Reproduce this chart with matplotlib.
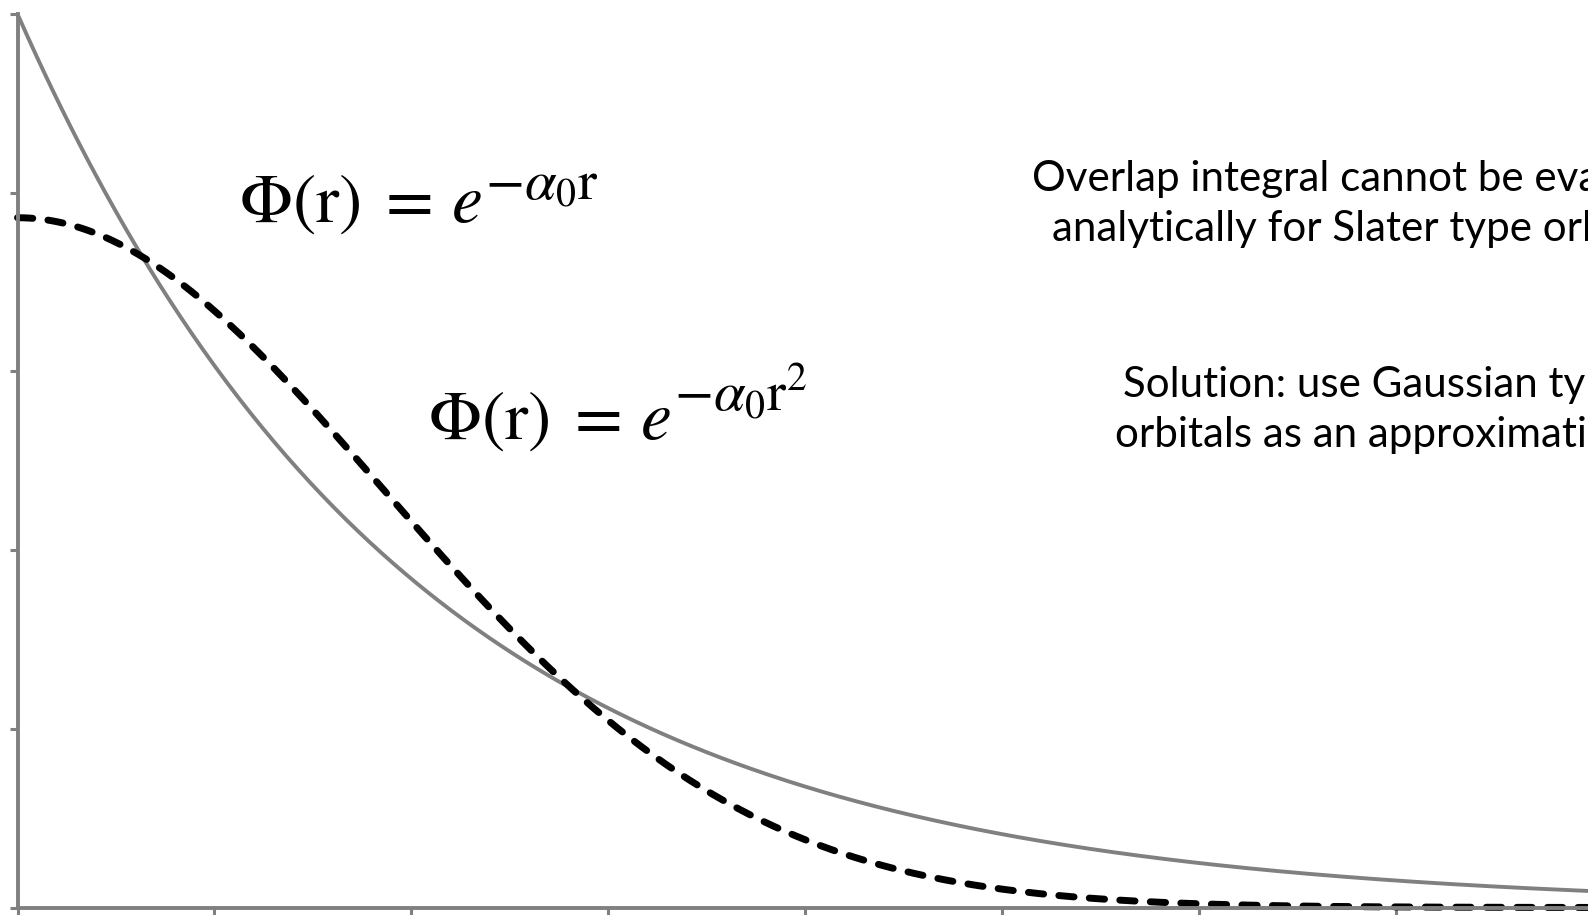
import numpy as np
import matplotlib.pyplot as plt

plt.rcParams['mathtext.fontset'] = 'stix'

# radial coordinate and orbital exponents
r_max = 4.5
alpha_slater = 1.0
gauss_amp = 0.772
alpha_gauss = 0.58

x_ticks = np.arange(0, 4.6, 0.5)
y_ticks = np.arange(0, 1.01, 0.2)

lhs = r'$\Phi(\mathrm{r})\;=\,e$'
slater_exp = r'$-\alpha_0\mathrm{r}$'
gauss_exp = r'$-\alpha_0\mathrm{r}^2$'
overlap_lines = ['Overlap integral cannot be evaluated',
                 'analytically for Slater type orbitals']
solution_lines = ['Solution: use Gaussian type',
                  'orbitals as an approximation']

W, H = 1588, 915
fig = plt.figure(figsize=(W / 100, H / 100), dpi=100)
fig.patch.set_facecolor('white')

# axes run past the right edge of the figure
x0, y_bot, y_top = 17.5, 907.5, 14.0
px_per_unit = 196.9 / 0.5
ax = fig.add_axes([x0 / W, (H - y_bot) / H,
                   r_max * px_per_unit / W, (y_bot - y_top) / H])

r = np.linspace(0, r_max, 600)
slater = np.exp(-alpha_slater * r)
gauss = gauss_amp * np.exp(-alpha_gauss * r ** 2)

ax.plot(r, slater, color='#808080', lw=2.8, solid_capstyle='butt', clip_on=False)
ax.plot(r, gauss, color='black', lw=5.0, dashes=(2.2, 2.2),
        dash_capstyle='round', clip_on=False)

ax.set_xlim(0, r_max)
ax.set_ylim(0, 1)
ax.set_xticks(x_ticks)
ax.set_yticks(y_ticks)
ax.set_xticklabels([])
ax.set_yticklabels([])
ax.tick_params(direction='out', length=6, width=2.2, color='#808080')
for side in ['top', 'right']:
    ax.spines[side].set_visible(False)
for side in ['left', 'bottom']:
    ax.spines[side].set_color('#808080')
    ax.spines[side].set_linewidth(2.8)

renderer = fig.canvas.get_renderer()


def put(x, y, s, **kw):
    return fig.text(x / W, 1 - y / H, s, va='baseline', ha='left', **kw)


def equation(x, y, exponent, raise_px):
    # Phi(r) = e, with a near full size exponent after the e
    base = put(x, y, lhs, fontsize=50)
    bb = base.get_window_extent(renderer)
    put(bb.x1 + 3, y - raise_px, exponent, fontsize=41)


equation(239, 222, slater_exp, 23)
equation(428, 439, gauss_exp, 28)

for (x, y), line in zip([(1032, 191), (1052, 241)], overlap_lines):
    put(x, y, line, fontsize=30.3, family='Lato')
for (x, y), line in zip([(1123, 397), (1115, 447)], solution_lines):
    put(x, y, line, fontsize=30.3, family='Lato')

fig.savefig('out.png', dpi=100)
